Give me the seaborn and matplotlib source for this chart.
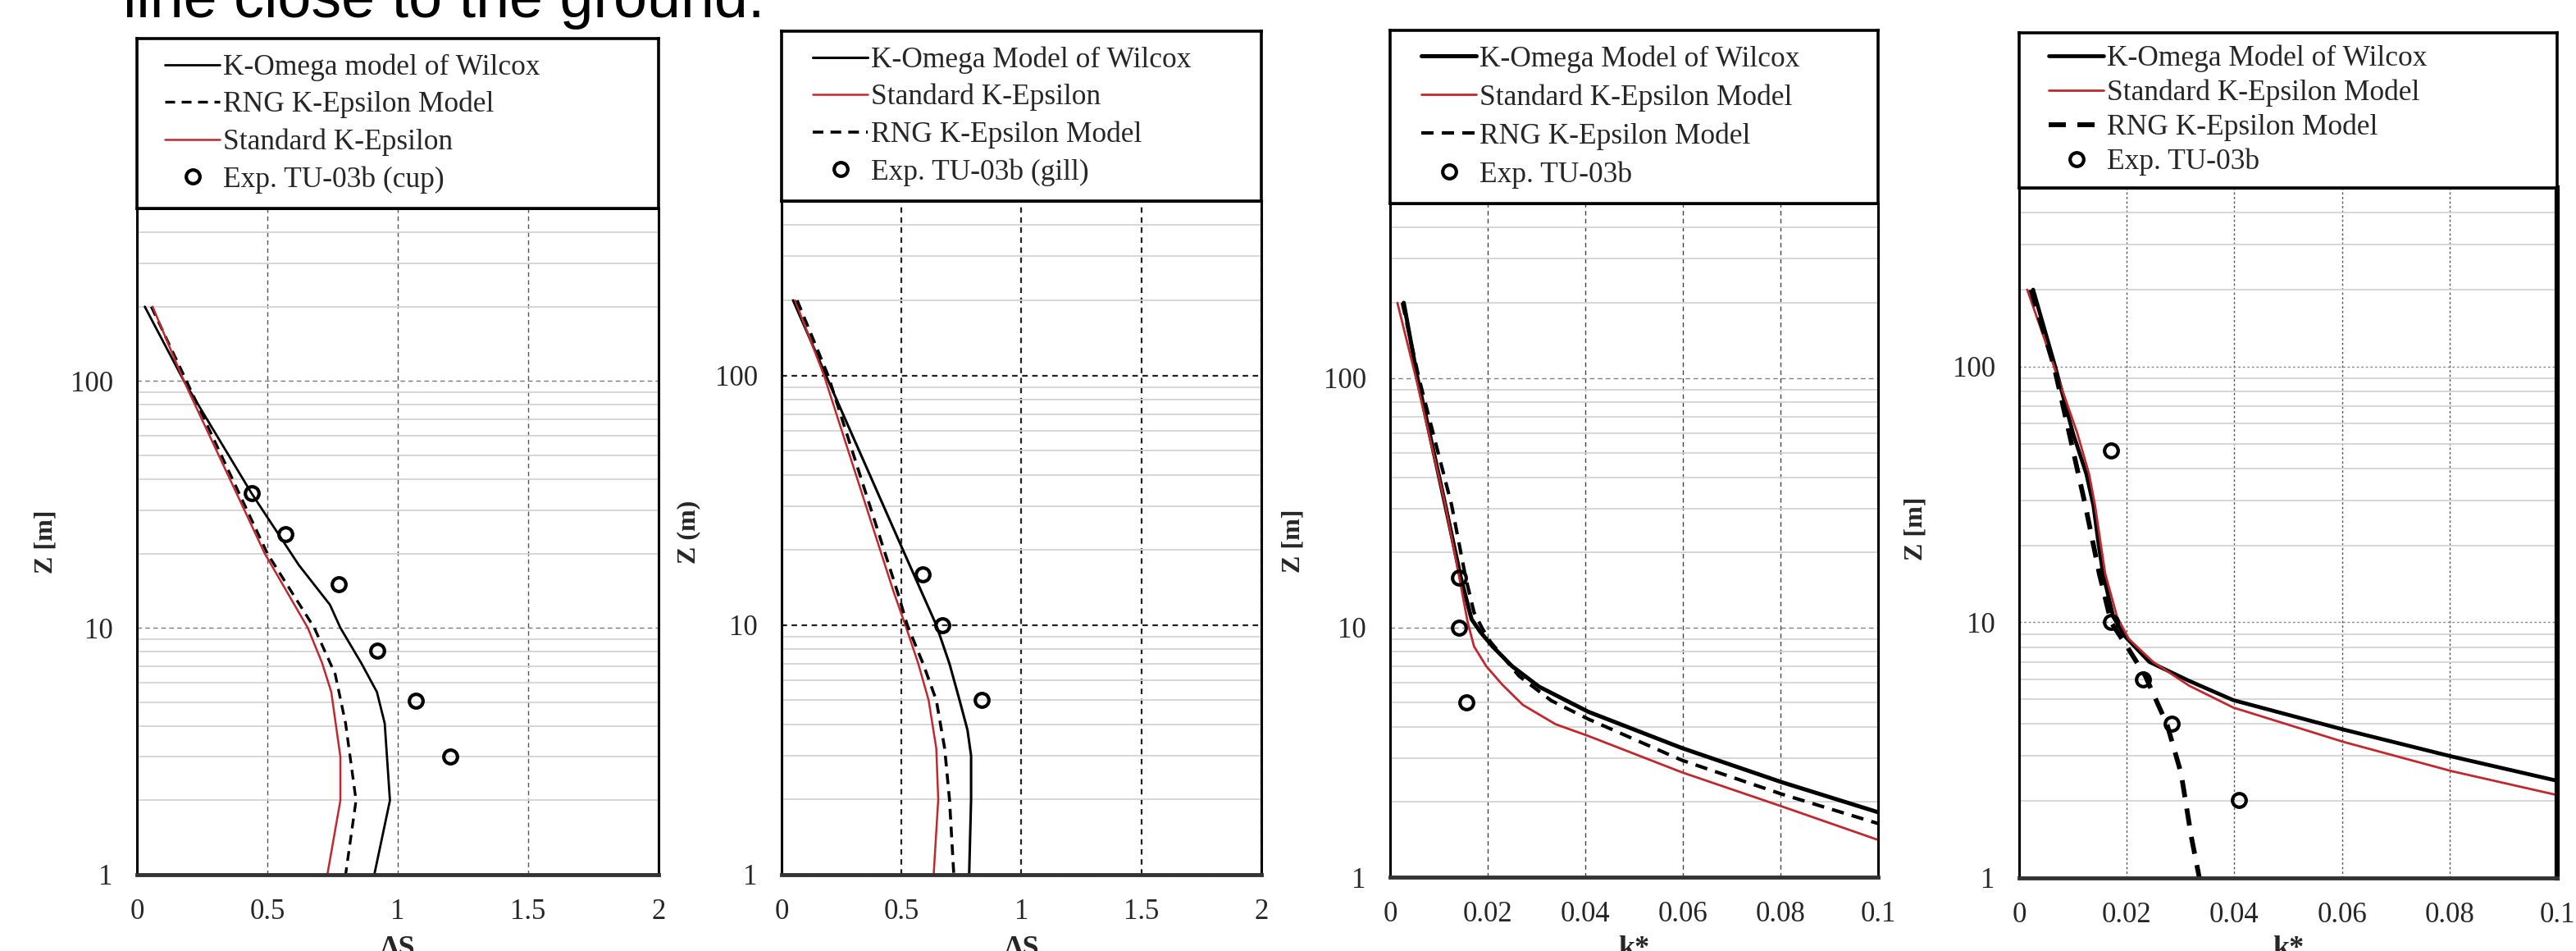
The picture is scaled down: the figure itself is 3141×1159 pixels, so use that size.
import matplotlib.pyplot as plt
import numpy as np
import pandas as pd
import seaborn as sns
from matplotlib.ticker import LogLocator, NullFormatter

FIG_W, FIG_H = 3141, 1159
DPI = 100
RED = "#c0282d"

# panel 1: delta S vs height, cup anemometer
p1_komega_x = [0.03, 0.18, 0.44, 0.62, 0.74, 0.78, 0.86, 0.92, 0.95, 0.97, 0.91]
p1_komega_z = [200, 100, 35, 18, 12.4, 10, 7.2, 5.5, 4.1, 2, 1]
p1_rng_x = [0.055, 0.19, 0.50, 0.68, 0.76, 0.80, 0.84, 0.80]
p1_rng_z = [200, 100, 20, 10, 6.5, 4.1, 2, 1]
p1_std_x = [0.06, 0.18, 0.49, 0.655, 0.71, 0.745, 0.78, 0.78, 0.73]
p1_std_z = [200, 100, 20, 10, 7.2, 5.5, 3, 2, 1]
p1_exp_x = [0.44, 0.57, 0.775, 0.92, 1.07, 1.20]
p1_exp_z = [35, 24, 15, 8.1, 5.05, 3.0]

# panel 2: delta S vs height, gill anemometer
p2_komega_x = [0.048, 0.185, 0.50, 0.645, 0.70, 0.742, 0.775, 0.79, 0.79, 0.782]
p2_komega_z = [200, 100, 20.6, 10, 7, 5, 3.8, 3, 2, 1]
p2_std_x = [0.056, 0.177, 0.468, 0.516, 0.57, 0.613, 0.645, 0.653, 0.634]
p2_std_z = [200, 100, 13.5, 10, 7, 5, 3.2, 2, 1]
p2_rng_x = [0.065, 0.194, 0.484, 0.524, 0.59, 0.645, 0.68, 0.70, 0.718]
p2_rng_z = [200, 100, 13.5, 10, 7, 5, 3.2, 2, 1]
p2_exp_x = [0.589, 0.669, 0.835]
p2_exp_z = [16, 10, 5]

# panel 3: k* vs height
p3_komega_x = [0.0028, 0.0056, 0.0113, 0.0145, 0.0167, 0.0185, 0.021, 0.025,
               0.0305, 0.0406, 0.0598, 0.0803, 0.1]
p3_komega_z = [200, 100, 31, 15.8, 10.8, 9.6, 8.4, 7.0, 5.8, 4.6, 3.29, 2.4, 1.82]
p3_std_x = [0.0015, 0.0053, 0.0113, 0.0142, 0.0159, 0.0172, 0.0197, 0.023,
            0.0272, 0.0339, 0.0406, 0.0598, 0.0803, 0.1]
p3_std_z = [200, 100, 31, 15.8, 10.5, 8.4, 7.0, 5.9, 4.9, 4.1, 3.68, 2.63,
            1.92, 1.41]
p3_rng_x = [0.0025, 0.0059, 0.0126, 0.0155, 0.0172, 0.0188, 0.0205, 0.0264,
            0.033, 0.0406, 0.0598, 0.0803, 0.1]
p3_rng_z = [200, 100, 31, 15.8, 11.5, 10, 8.8, 6.4, 5.1, 4.3, 2.94, 2.15, 1.64]
p3_exp_x = [0.0142, 0.0142, 0.0156]
p3_exp_z = [15.8, 10, 5.0]

# panel 4: k* vs height
p4_komega_x = [0.0026, 0.0067, 0.010, 0.0125, 0.0138, 0.0148, 0.0156, 0.0175,
               0.0197, 0.0242, 0.0316, 0.0398, 0.0602, 0.0803, 0.1]
p4_komega_z = [200, 100, 55, 38, 28.7, 20, 15.5, 10.5, 8.8, 7.0, 5.9, 4.96,
               3.81, 2.99, 2.4]
p4_std_x = [0.0015, 0.0065, 0.0108, 0.013, 0.0141, 0.0152, 0.016, 0.0182,
            0.0204, 0.0249, 0.0316, 0.0398, 0.0602, 0.0803, 0.1]
p4_std_z = [200, 100, 55, 38, 28.7, 20, 15.5, 10.5, 8.6, 7.0, 5.65, 4.64,
            3.41, 2.62, 2.11]
p4_rng_x = [0.0022, 0.0065, 0.0093, 0.0123, 0.0149, 0.0171, 0.0201, 0.0234,
            0.0275, 0.0301, 0.032, 0.0335]
p4_rng_z = [200, 100, 55, 28.7, 15.5, 10, 8.0, 6.2, 3.98, 2.57, 1.45, 1]
p4_exp_x = [0.0171, 0.0171, 0.023, 0.0283, 0.0409]
p4_exp_z = [47, 10, 6.0, 4.0, 2.02]

ds_ticks = [0, 0.5, 1, 1.5, 2]
ds_ticklabels = ["0", "0.5", "1", "1.5", "2"]
k_ticks = [0, 0.02, 0.04, 0.06, 0.08, 0.1]
k_ticklabels = ["0", "0.02", "0.04", "0.06", "0.08", "0.1"]
z_ticks = [1, 10, 100]
z_ticklabels = ["1", "10", "100"]


def px_rect(x0, y0, x1, y1):
    """Pixel box (top-left origin) to figure fraction rect."""
    return [x0 / FIG_W, 1 - y1 / FIG_H, (x1 - x0) / FIG_W, (y1 - y0) / FIG_H]


def add_line(ax, x, z, label, color, lw, ls="-"):
    sns.lineplot(
        x=x, y=z, ax=ax, sort=False, estimator=None,
        color=color, linewidth=lw, linestyle=ls, label=label,
    )


def add_points(ax, x, z, label):
    sns.lineplot(
        x=x, y=z, ax=ax, sort=False, estimator=None,
        color="black", linestyle="none", marker="o", markersize=12,
        markerfacecolor="none", markeredgecolor="black",
        markeredgewidth=3, label=label,
    )


def style_axes(ax, spec):
    ax.set_yscale("log")
    ax.set_xlim(spec["xlim"])
    ax.set_ylim(1, 500)
    ax.set_xticks(spec["xticks"], labels=spec["xticklabels"])
    ax.set_yticks(z_ticks, labels=z_ticklabels)
    ax.yaxis.set_minor_locator(LogLocator(base=10, subs=np.arange(2, 10)))
    ax.yaxis.set_minor_formatter(NullFormatter())
    ax.grid(True, which="minor", axis="y", color="#d3d3d3",
            linewidth=1.3, linestyle="-")
    ax.grid(True, which="major", axis="y", color=spec["ygrid_color"],
            linewidth=spec["grid_lw"], linestyle=(0, spec["dash"]))
    ax.grid(True, which="major", axis="x", color=spec["xgrid_color"],
            linewidth=spec["grid_lw"], linestyle=(0, spec["dash"]))
    ax.set_axisbelow(True)
    ax.tick_params(axis="both", which="major", labelsize=25, length=8,
                   width=1, color="#888888", pad=13, direction="out")
    ax.tick_params(axis="y", which="minor", length=0)
    for sp in ax.spines.values():
        sp.set_visible(True)
        sp.set_color("black")
        sp.set_linewidth(2.2)
    ax.spines["bottom"].set_color("#333333")
    ax.spines["bottom"].set_linewidth(3.5)
    if spec.get("right_lw"):
        ax.spines["right"].set_linewidth(spec["right_lw"])


def draw_panel(fig, spec):
    ax = fig.add_axes(px_rect(*spec["plot_px"]))
    lax = fig.add_axes(px_rect(*spec["legend_px"]))
    for kind, x, z, label, lw in spec["series"]:
        if kind == "komega":
            add_line(ax, x, z, label, "black", lw)
        elif kind == "std":
            add_line(ax, x, z, label, RED, lw)
        elif kind == "rng":
            add_line(ax, x, z, label, "black", lw, ls=(0, (3.6, 2.4)))
        else:
            add_points(ax, x, z, label)
    style_axes(ax, spec)

    handles, labels = ax.get_legend_handles_labels()
    if ax.get_legend() is not None:
        ax.get_legend().remove()

    x0, y0, x1, y1 = spec["plot_px"]
    ax.set_xlabel(spec["xlabel"], fontsize=26, fontweight="bold")
    ax.xaxis.set_label_coords((x0 + x1) / 2 / FIG_W, 1 - 1140 / FIG_H,
                              transform=fig.transFigure)
    lx, ly = spec["ylabel_px"]
    ax.set_ylabel(spec["ylabel"], fontsize=23, fontweight="bold", va="center")
    ax.yaxis.set_label_coords(lx / FIG_W, 1 - ly / FIG_H,
                              transform=fig.transFigure)

    lax.set_xticks([])
    lax.set_yticks([])
    lax.set_facecolor("white")
    for sp in lax.spines.values():
        sp.set_visible(True)
        sp.set_color("black")
        sp.set_linewidth(2.6)
    width = x1 - x0
    lax.legend(
        handles, labels, loc="center left",
        bbox_to_anchor=(spec["handle_off"] / width, 0.5),
        frameon=False, fontsize=25.5, borderpad=0, borderaxespad=0,
        handlelength=1.9, handletextpad=0.1,
        labelspacing=spec["labelspacing"],
    )


sns.set_theme(style="white")
plt.rcParams["font.family"] = ["Liberation Serif", "DejaVu Serif"]

fig = plt.figure(figsize=(FIG_W / DPI, FIG_H / DPI), dpi=DPI)

panels = [
    {
        "plot_px": (167, 254, 803, 1066),
        "legend_px": (167, 47, 803, 254),
        "xlim": (0, 2), "xticks": ds_ticks, "xticklabels": ds_ticklabels,
        "xlabel": "ΔS", "ylabel": "Z [m]", "ylabel_px": (56, 660),
        "ygrid_color": "#7a7a7a", "xgrid_color": "#555555",
        "grid_lw": 1.0, "dash": (4, 3), "handle_off": 34,
        "labelspacing": 0.34,
        "series": [
            ("komega", p1_komega_x, p1_komega_z, "K-Omega model of Wilcox", 2.0),
            ("rng", p1_rng_x, p1_rng_z, "RNG K-Epsilon Model", 2.4),
            ("std", p1_std_x, p1_std_z, "Standard K-Epsilon", 1.8),
            ("exp", p1_exp_x, p1_exp_z, "Exp. TU-03b (cup)", 0),
        ],
    },
    {
        "plot_px": (953, 245, 1538, 1066),
        "legend_px": (953, 38, 1538, 245),
        "xlim": (0, 2), "xticks": ds_ticks, "xticklabels": ds_ticklabels,
        "xlabel": "ΔS", "ylabel": "Z (m)", "ylabel_px": (840, 648),
        "ygrid_color": "#222222", "xgrid_color": "#222222",
        "grid_lw": 1.6, "dash": (3, 2.5), "handle_off": 38,
        "labelspacing": 0.34,
        "series": [
            ("komega", p2_komega_x, p2_komega_z, "K-Omega Model of Wilcox", 2.2),
            ("std", p2_std_x, p2_std_z, "Standard K-Epsilon", 1.8),
            ("rng", p2_rng_x, p2_rng_z, "RNG K-Epsilon Model", 2.6),
            ("exp", p2_exp_x, p2_exp_z, "Exp. TU-03b (gill)", 0),
        ],
    },
    {
        "plot_px": (1695, 248, 2290, 1069),
        "legend_px": (1695, 37, 2290, 248),
        "xlim": (0, 0.1), "xticks": k_ticks, "xticklabels": k_ticklabels,
        "xlabel": "k*", "ylabel": "Z [m]", "ylabel_px": (1577, 659),
        "ygrid_color": "#808080", "xgrid_color": "#444444",
        "grid_lw": 1.0, "dash": (4, 3), "handle_off": 38,
        "labelspacing": 0.38,
        "series": [
            ("komega", p3_komega_x, p3_komega_z, "K-Omega Model of Wilcox", 3.6),
            ("std", p3_std_x, p3_std_z, "Standard K-Epsilon Model", 2.0),
            ("rng", p3_rng_x, p3_rng_z, "RNG K-Epsilon Model", 3.0),
            ("exp", p3_exp_x, p3_exp_z, "Exp. TU-03b", 0),
        ],
    },
    {
        "plot_px": (2462, 229, 3118, 1070),
        "legend_px": (2462, 40, 3118, 229),
        "xlim": (0, 0.1), "xticks": k_ticks, "xticklabels": k_ticklabels,
        "xlabel": "k*", "ylabel": "Z [m]", "ylabel_px": (2336, 644),
        "ygrid_color": "#8a8a8a", "xgrid_color": "#555555",
        "grid_lw": 1.0, "dash": (2, 2), "handle_off": 36,
        "labelspacing": 0.24, "right_lw": 4.5,
        "series": [
            ("komega", p4_komega_x, p4_komega_z, "K-Omega Model of Wilcox", 3.4),
            ("std", p4_std_x, p4_std_z, "Standard K-Epsilon Model", 2.0),
            ("rng", p4_rng_x, p4_rng_z, "RNG K-Epsilon Model", 4.2),
            ("exp", p4_exp_x, p4_exp_z, "Exp. TU-03b", 0),
        ],
    },
]

for spec in panels:
    draw_panel(fig, spec)

# caption text from the page above, cut off at the top edge
fig.text(150 / FIG_W, 1 - 21 / FIG_H, "line close to the ground.",
         fontsize=53, family=["Liberation Sans", "DejaVu Sans"],
         va="baseline", ha="left", color="black")

fig.savefig("out.png", dpi=DPI)
plt.close(fig)
